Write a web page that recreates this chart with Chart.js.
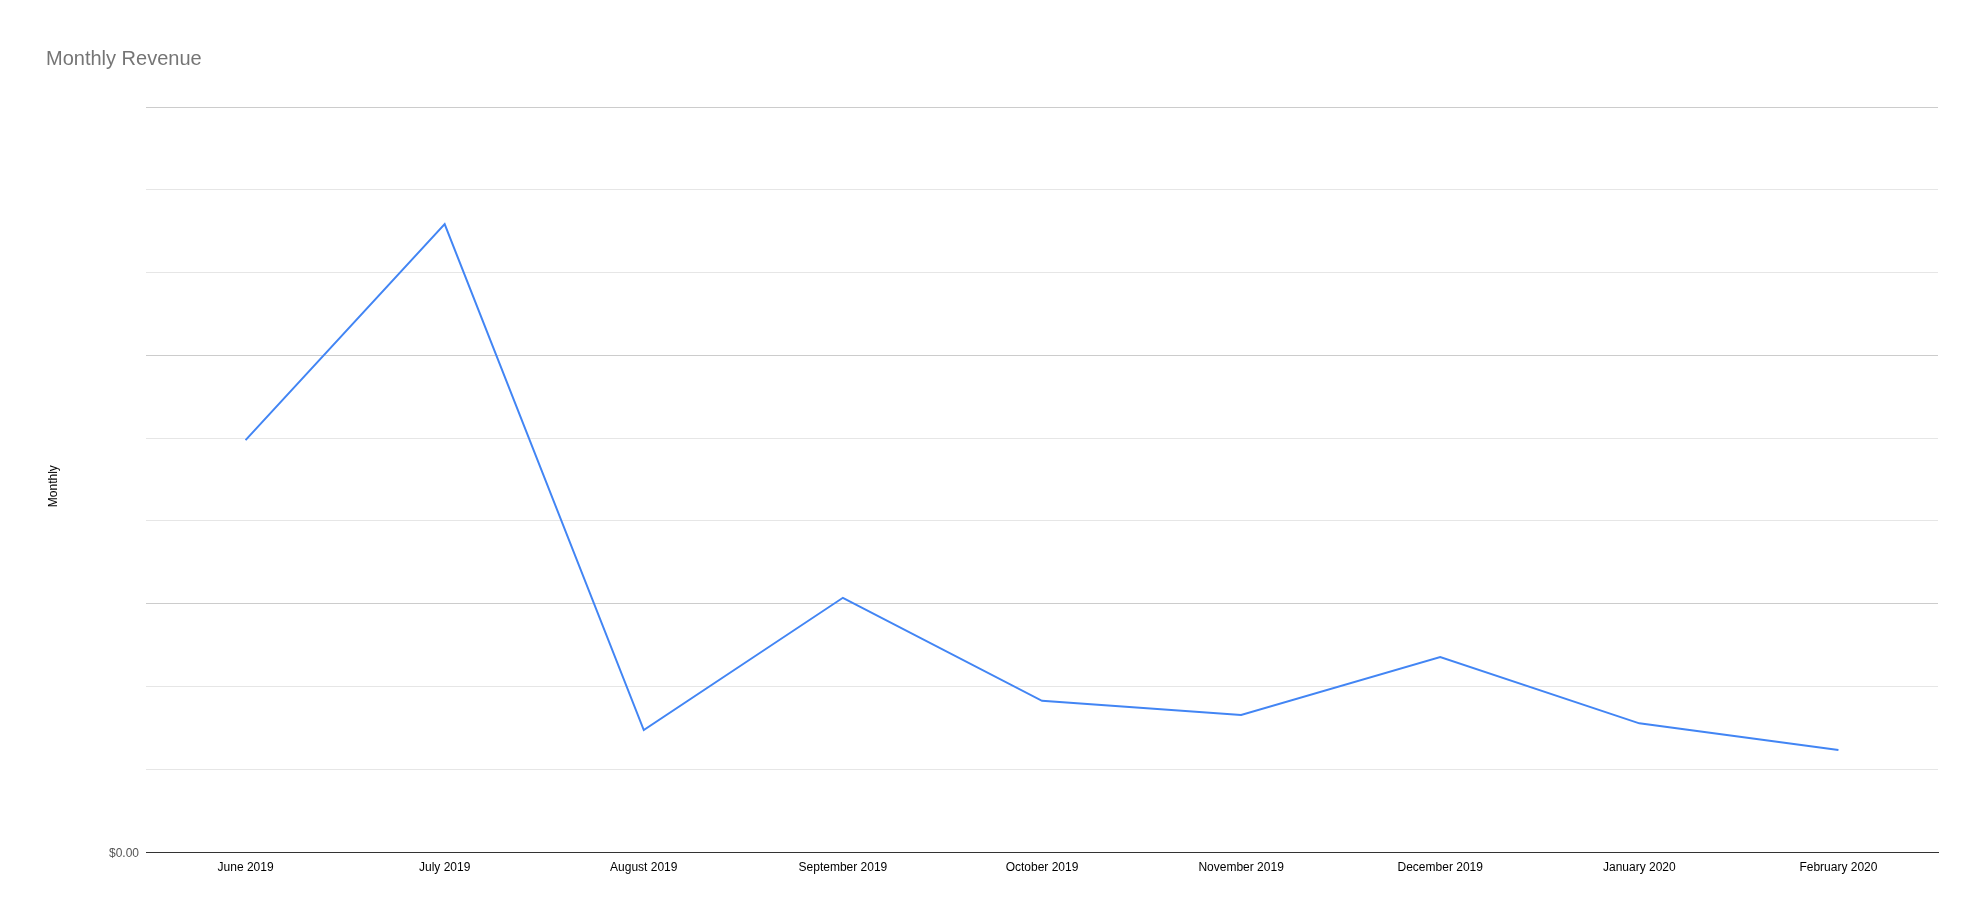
<!DOCTYPE html>
<html lang="en">
<head>
  <meta charset="UTF-8">
  <title>Monthly Revenue</title>
  <script src="https://cdn.jsdelivr.net/npm/chart.js"></script>
  <style>
    body { margin: 0; background: #fff; }
  </style>
</head>
<body>
<canvas id="revenueChart" width="1984" height="918"></canvas>

<script>
  // months on the x axis
  const months = ['June 2019', 'July 2019', 'August 2019', 'September 2019', 'October 2019',
    'November 2019', 'December 2019', 'January 2020', 'February 2020'];
  // revenue per month (axis labels hidden in the original)
  const revenue = [4976, 7585, 1473, 3071, 1827, 1655, 2355, 1554, 1232];
  const yMax = 9000;
  const yStep = 1000;

  const font = "Arial, 'Liberation Sans', sans-serif";

  const ctx = document.getElementById('revenueChart').getContext('2d');
  new Chart(ctx, {
    type: 'line',
    data: {
      labels: months,
      datasets: [{
        label: 'Monthly',
        data: revenue,
        borderColor: '#4285f4',
        borderWidth: 2,
        pointRadius: 0,
        tension: 0,
        fill: false
      }]
    },
    options: {
      responsive: false,
      animation: false,
      layout: {
        padding: { left: 46, right: 46, top: 0, bottom: 36 }
      },
      plugins: {
        legend: { display: false },
        tooltip: { enabled: false },
        title: {
          display: true,
          text: 'Monthly Revenue',
          align: 'start',
          color: '#757575',
          font: { family: font, size: 20, weight: 'normal' },
          padding: { top: 47, bottom: 36 }
        }
      },
      scales: {
        x: {
          offset: true,
          grid: { display: false, drawTicks: false },
          border: { display: true, color: '#333333', width: 1 },
          ticks: {
            color: '#000000',
            font: { family: font, size: 12 },
            padding: 8,
            maxRotation: 0,
            autoSkip: false
          },
          afterFit: function (scale) { scale.height = 30; }
        },
        y: {
          min: 0,
          max: yMax,
          grid: {
            drawTicks: false,
            color: function (c) {
              if (c.index === 0) return '#333333';
              return c.index % 3 === 0 ? '#cccccc' : '#e6e6e6';
            }
          },
          border: { display: false },
          ticks: {
            stepSize: yStep,
            color: '#555555',
            padding: 7,
            labelOffset: 2,
            font: { family: font, size: 12 },
            callback: function (value) { return value === 0 ? '$0.00' : ''; }
          },
          title: {
            display: true,
            // trailing spaces nudge the rotated title down a little, like the original
            text: 'Monthly\u00a0\u00a0\u00a0\u00a0',
            color: '#000000',
            font: { family: font, size: 12 },
            padding: { top: 0, bottom: 0 }
          },
          afterFit: function (scale) { scale.width = 100; }
        }
      }
    }
  });
</script>
</body>
</html>
